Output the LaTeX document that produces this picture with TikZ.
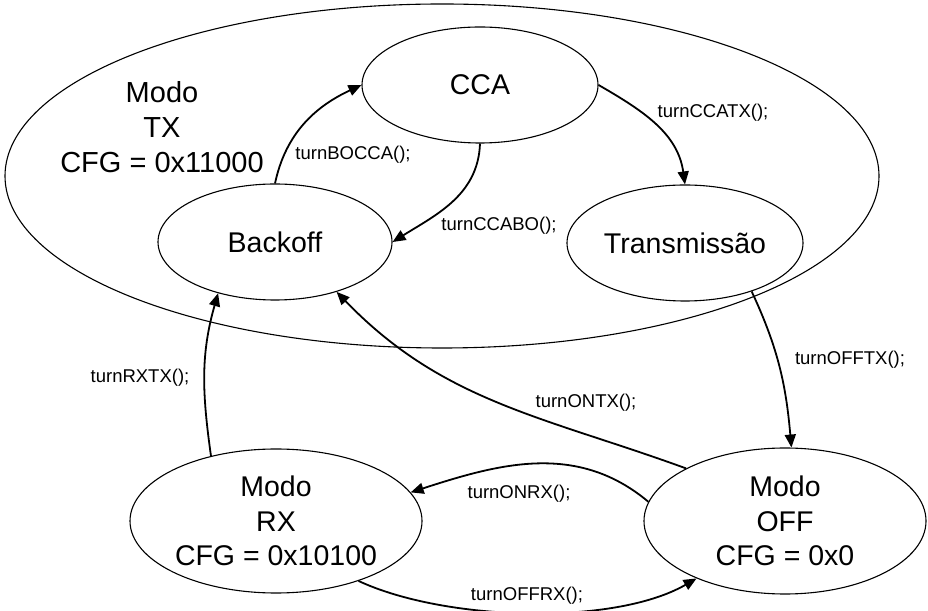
\documentclass[tikz,border=0pt]{standalone}
\usepackage{fontspec}
\setmainfont{Liberation Sans}
\usetikzlibrary{shapes.geometric,arrows.meta}
\begin{document}
\begin{tikzpicture}[x=1pt,y=1pt,
  state/.style={ellipse,draw,line width=1.1pt,inner sep=0pt,align=center,
    font=\fontsize{28.5}{34.5}\selectfont},
  trans/.style={line width=1.8pt,-{Triangle[length=13pt,width=11pt]}},
  lbl/.style={font=\fontsize{18.5}{21}\selectfont,inner sep=1pt}]
\useasboundingbox (0,0) rectangle (928,610);

% outer transmit mode
\node[state,minimum width=874pt,minimum height=344pt] (txmode) at (442,434) {};
\node[align=center,font=\fontsize{29}{35}\selectfont] (txtext) at (162,483)
  {Modo\\TX\\CFG = 0x11000};

% states inside transmit mode
\node[state,minimum width=236pt,minimum height=116pt] (cca) at (480,525) {CCA};
\node[state,minimum width=234pt,minimum height=116pt] (backoff) at (275,368) {Backoff};
\node[state,minimum width=236pt,minimum height=116pt] (tx) at (685,367) {Transmissão};

% receive and off modes
\node[state,minimum width=292pt,minimum height=144pt] (rx) at (276,89)
  {Modo\\RX\\CFG = 0x10100};
\node[state,minimum width=282pt,minimum height=146pt] (off) at (785,89)
  {Modo\\OFF\\CFG = 0x0};

% transitions
\draw[trans] (backoff.north) to[out=78,in=205] (cca.west);
\draw[trans] (cca.south) to[out=-92,in=32] (backoff.east);
\draw[trans] (cca.east) to[out=-30,in=98] (tx.north);
\draw[trans] (tx.-36) to[out=-65,in=95] (off.85);
\draw[trans] (rx.135) to[out=98,in=-106] (backoff.-138);
\draw[trans] (off.152) to[out=160,in=-46] (backoff.-39);
\draw[trans] (off.172) to[out=140,in=18] (rx.12);
\draw[trans] (rx.-36) to[out=-25,in=-150,looseness=0.72] (off.-147);

% transition labels
\node[lbl] (lBOCCA) at (353,455) {turnBOCCA();};
\node[lbl] (lCCABO) at (499,384) {turnCCABO();};
\node[lbl] (lCCATX) at (713,497) {turnCCATX();};
\node[lbl] (lOFFTX) at (850,250) {turnOFFTX();};
\node[lbl] (lRXTX) at (140,232) {turnRXTX();};
\node[lbl] (lONTX) at (586,207) {turnONTX();};
\node[lbl] (lONRX) at (519,116) {turnONRX();};
\node[lbl] (lOFFRX) at (527,14) {turnOFFRX();};
\end{tikzpicture}
\end{document}
